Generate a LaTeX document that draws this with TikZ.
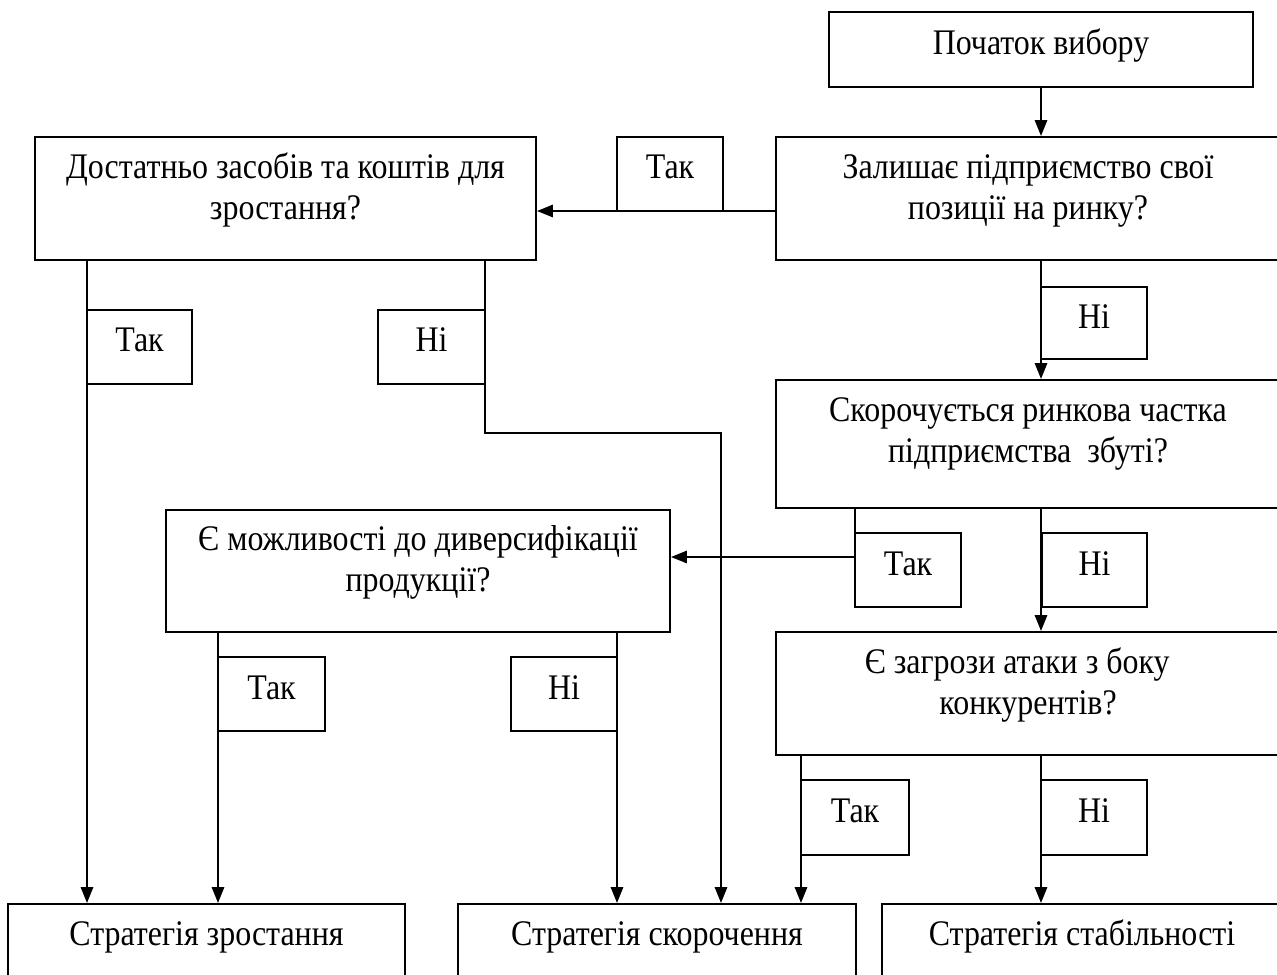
\documentclass[tikz,border=0pt]{standalone}
\usepackage{fontspec}
\setmainfont{Liberation Serif}[FakeStretch=0.887]
\usetikzlibrary{arrows.meta}
\newlength\pxu
\setlength\pxu{0.3889pt}
\newcommand\myfs{\fontsize{14}{16.1}\selectfont}
\begin{document}
\begin{tikzpicture}[x=0.3889pt, y=-0.3889pt, font=\myfs,
  box/.style={draw, line width=0.78pt, fill=white, inner sep=0pt},
  one/.style={box, text height=24\pxu, text depth=14\pxu},
  lab/.style={one, minimum width=106\pxu, minimum height=74\pxu},
  qbox/.style={box, minimum width=504\pxu, minimum height=123\pxu},
  sbox/.style={box, minimum height=96\pxu, text height=24\pxu, text depth=38\pxu},
  qtxt/.style={anchor=north, inner sep=0pt, align=center},
  ln/.style={line width=0.78pt},
  arr/.style={line width=0.78pt, -{Triangle[length=6.2pt,width=4.8pt]}}]
\useasboundingbox (0,0) rectangle (1277,975);
\clip (0,0) rectangle (1277,975);
\fill[white] (0,0) rectangle (1277,975);

% main boxes
\node[one, minimum width=424\pxu, minimum height=75\pxu] (start) at (1041,49.5) {Початок вибору};
\node[qbox] (q1) at (1028,198.5) {};
\node[qtxt] (q1t) at (1028,149) {\strut Залишає підприємство свої\\\strut позиції на ринку?};
\node[qbox, minimum width=501\pxu] (q2) at (285.5,198.5) {};
\node[qtxt] (q2t) at (285.5,149) {\strut Достатньо засобів та коштів для\\\strut зростання?};
\node[qbox, minimum height=128\pxu] (q3) at (1028,444) {};
\node[qtxt] (q3t) at (1028,392) {\strut Скорочується ринкова частка\\\strut підприємства\ \ збуті?};
\node[qbox, minimum height=122\pxu] (q4) at (418,571) {};
\node[qtxt] (q4t) at (418,521) {\strut Є можливості до диверсифікації\\\strut продукції?};
\node[qbox] (q5) at (1028,693.5) {};
\node[qtxt] (q5t) at (1028,644) {\strut Є загрози атаки з боку\hspace*{0.6em}\\\strut конкурентів?};
\node[sbox, minimum width=397\pxu] (s1) at (206.5,952) {Стратегія зростання};
\node[sbox, minimum width=398\pxu] (s2) at (657,952) {Стратегія скорочення};
\node[sbox, minimum width=400\pxu] (s3) at (1082,952) {Стратегія стабільності};

% connectors
\draw[arr] (start.south) -- (start.south |- q1.north);
\draw[arr] (q1.west |- 0,211) -- (q2.east |- 0,211);
\draw[arr] (q1.south -| start.south) -- (q3.north -| start.south);
\draw[arr] (q3.south -| 855,0) -- (855,557) -- (q4.east |- 0,557);
\draw[arr] (q3.south -| 1041,0) -- (q5.north -| 1041,0);
\draw[arr] (q5.south -| 801,0) -- (s2.north -| 801,0);
\draw[arr] (q5.south -| 1041,0) -- (s3.north -| 1041,0);
\draw[arr] (q2.south -| 87,0) -- (s1.north -| 87,0);
\draw[arr] (q2.south -| 485,0) -- (485,433) -- (721,433) -- (s2.north -| 721,0);
\draw[arr] (q4.south -| 218,0) -- (s1.north -| 218,0);
\draw[arr] (q4.south -| 617,0) -- (s2.north -| 617,0);

% yes / no labels
\node[lab] (l1) at (670,174) {Так};
\node[lab, minimum height=72\pxu] (l2) at (1094,323) {Ні};
\node[lab] (l3) at (908,570) {Так};
\node[lab, minimum width=105\pxu] (l4) at (1094.5,570) {Ні};
\node[lab, minimum width=108\pxu, minimum height=75\pxu] (l5) at (855,817.5) {Так};
\node[lab, minimum height=75\pxu] (l6) at (1094,817.5) {Ні};
\node[lab, minimum width=105\pxu] (l7) at (139.5,347) {Так};
\node[lab, minimum width=107\pxu] (l8) at (431.5,347) {Ні};
\node[lab, minimum width=107\pxu] (l9) at (271.5,694) {Так};
\node[lab] (l10) at (564,694) {Ні};
\end{tikzpicture}
\end{document}
